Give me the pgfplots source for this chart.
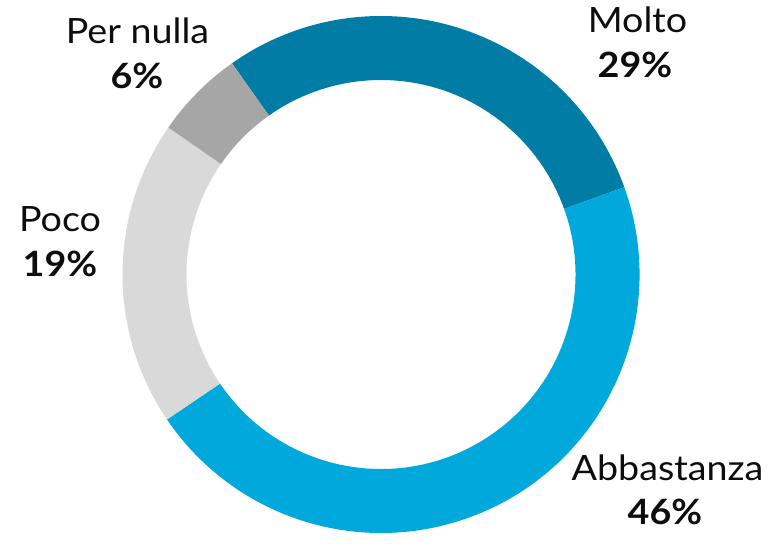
\documentclass[border=0pt]{standalone}
\usepackage{pgfplots}
\pgfplotsset{compat=1.18}
\usepackage{pgfplotstable}
\usepackage{fontspec}
\setmainfont{Lato}[FakeStretch=1.08]
\definecolor{molto}{HTML}{007CA5}
\definecolor{abbast}{HTML}{00A8DC}
\definecolor{poco}{HTML}{D9D9D9}
\definecolor{pernulla}{HTML}{A6A6A6}

\pgfplotstableread{
label value
Molto 29.3
Abbastanza 46.0
Poco 19.1
PerNulla 5.6
}\donutdata

\begin{document}
\begin{tikzpicture}
\pgfplotstablegetelem{0}{value}\of\donutdata \let\vA\pgfplotsretval
\pgfplotstablegetelem{1}{value}\of\donutdata \let\vB\pgfplotsretval
\pgfplotstablegetelem{2}{value}\of\donutdata \let\vC\pgfplotsretval
\pgfplotstablegetelem{3}{value}\of\donutdata \let\vD\pgfplotsretval
\pgfmathsetmacro\aA{125.2}
\pgfmathsetmacro\aB{\aA-3.6*\vA}
\pgfmathsetmacro\aC{\aB-3.6*\vB}
\pgfmathsetmacro\aD{\aC-3.6*\vC}
\pgfmathsetmacro\aE{\aD-3.6*\vD}
\def\Ro{258.5bp}
\def\Ri{194.5bp}
\begin{axis}[
  scale only axis, width=779bp, height=536bp,
  xmin=0, xmax=779, ymin=0, ymax=536,
  hide axis, clip=false,
]
\path (rel axis cs:0,0) rectangle (rel axis cs:1,1);
\coordinate (c) at (axis cs:381,261.5);
\fill[molto] ([shift={(\aA:\Ro)}]c) arc[start angle=\aA, end angle=\aB, radius=\Ro] -- ([shift={(\aB:\Ri)}]c) arc[start angle=\aB, end angle=\aA, radius=\Ri] -- cycle;
\fill[abbast] ([shift={(\aB:\Ro)}]c) arc[start angle=\aB, end angle=\aC, radius=\Ro] -- ([shift={(\aC:\Ri)}]c) arc[start angle=\aC, end angle=\aB, radius=\Ri] -- cycle;
\fill[poco] ([shift={(\aC:\Ro)}]c) arc[start angle=\aC, end angle=\aD, radius=\Ro] -- ([shift={(\aD:\Ri)}]c) arc[start angle=\aD, end angle=\aC, radius=\Ri] -- cycle;
\fill[pernulla] ([shift={(\aD:\Ro)}]c) arc[start angle=\aD, end angle=\aE, radius=\Ro] -- ([shift={(\aE:\Ri)}]c) arc[start angle=\aE, end angle=\aD, radius=\Ri] -- cycle;
\tikzset{lab/.style={anchor=base, inner sep=0pt, font=\fontsize{35}{40}\selectfont, text=black!95}}
\node[lab] at (axis cs:637.5,503.7) {Molto};
\node[lab, font=\fontsize{35}{40}\selectfont\bfseries] at (axis cs:635,458.7) {29\%};
\node[lab] at (axis cs:137.5,492) {Per nulla};
\node[lab, font=\fontsize{35}{40}\selectfont\bfseries] at (axis cs:137,447.7) {6\%};
\node[lab] at (axis cs:60,304.3) {Poco};
\node[lab, font=\fontsize{35}{40}\selectfont\bfseries] at (axis cs:60,259.3) {19\%};
\node[lab] at (axis cs:667.5,55.3) {Abbastanza};
\node[lab, font=\fontsize{35}{40}\selectfont\bfseries] at (axis cs:665,11.7) {46\%};
\end{axis}
\end{tikzpicture}
\end{document}
